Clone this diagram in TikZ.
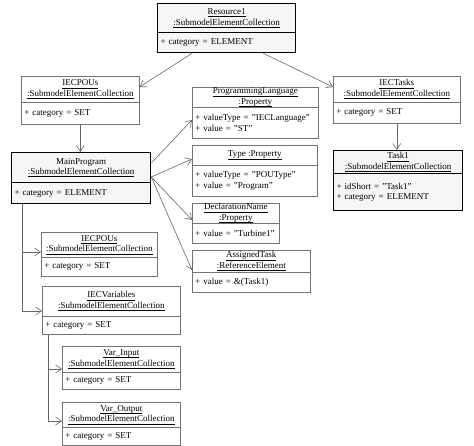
\documentclass[tikz,border=0pt]{standalone}
\usepackage{fontspec}
\setmainfont{Liberation Serif}
\usetikzlibrary{arrows.meta}
\tikzset{
  boxline/.style={draw=black!55, line width=0.6pt, fill=white},
  hdr/.style={boxline, inner sep=0pt, align=center, anchor=north west,
    font=\fontsize{9}{10.5}\selectfont},
  bdy/.style={boxline, inner xsep=3pt, inner ysep=0pt, align=left, anchor=north west,
    font=\fontsize{9}{10.5}\selectfont},
  heavy/.style={draw=black, line width=1.3pt, fill=gray!7},
  conn/.style={draw=black!60, line width=0.6pt, -{Straight Barb[length=6pt,width=8pt]}}
}
% #1 extra style, #2 name, #3 left, #4 top, #5 right, #6 divider, #7 bottom, #8 header, #9 body
\newcommand\umlbox[9][]{%
  \pgfmathsetmacro\ubw{#5-#3}%
  \pgfmathsetmacro\ubtw{#5-#3-6}%
  \pgfmathsetmacro\ubhh{#6-#4}%
  \pgfmathsetmacro\ubbh{#7-#6}%
  \node[hdr,#1, minimum width=\ubw pt, minimum height=\ubhh pt] (#2) at (#3,#4) {#8};
  \node[bdy,#1, text width=\ubtw pt, minimum height=\ubbh pt] (#2-b) at (#3,#6) {#9};
}
\newcommand\ul[1]{\underline{\raisebox{0pt}[\height][0.6pt]{#1}}}
\begin{document}
\begin{tikzpicture}[x=1pt,y=-1pt]
\useasboundingbox (0,0) rectangle (474,446);

\umlbox[heavy]{res}{157}{3}{295}{32}{52}{\ul{Resource1}\\\ul{:SubmodelElementCollection}}{+ category = ELEMENT}
\umlbox{poua}{21}{76}{139}{102}{124}{\ul{IECPOUs}\\\ul{:SubmodelElementCollection}}{+ category = SET}
\umlbox{tasks}{333}{76}{460}{102}{123}{\ul{IECTasks}\\\ul{:SubmodelElementCollection}}{+ category = SET}
\umlbox[heavy]{task}{333}{150}{462}{173}{210}{\ul{Task1}\\\ul{:SubmodelElementCollection}}{+ idShort = "Task1"\\+ category = ELEMENT}
\umlbox[heavy]{main}{11}{152}{150}{182}{203}{MainProgram\\\ul{:SubmodelElementCollection}}{+ category = ELEMENT}
\umlbox{pl}{192}{87}{318}{107}{138}{\ul{ProgrammingLanguage}\\\ul{:Property}}{+ valueType = "IECLanguage"\\+ value = "ST"}
\umlbox{type}{192}{145}{317}{165}{196}{\ul{Type :Property}}{+ valueType = "POUType"\\+ value = "Program"}
\umlbox{decl}{192}{203}{279}{223}{243}{\ul{DeclarationName}\\\ul{:Property}}{+ value = "Turbine1"}
\umlbox{asg}{192}{250}{310}{272}{292}{\ul{AssignedTask}\\\ul{:ReferenceElement}}{+ value = \&(Task1)}
\umlbox{poub}{41}{232}{157}{257}{276}{\ul{IECPOUs}\\\ul{:SubmodelElementCollection}}{+ category = SET}
\umlbox{vars}{42}{286}{180}{316}{334}{\ul{IECVariables}\\\ul{:SubmodelElementCollection}}{+ category = SET}
\umlbox{vin}{62}{346}{180}{372}{389}{\ul{Var\_Input}\\\ul{:SubmodelElementCollection}}{+ category = SET}
\umlbox{vout}{62}{402}{180}{427}{445}{\ul{Var\_Output}\\\ul{:SubmodelElementCollection}}{+ category = SET}

\draw[conn] ([xshift=35pt]res-b.south west) -- ([yshift=-11pt]poua.north east);
\draw[conn] ([xshift=-33pt]res-b.south east) -- ([yshift=-11pt]tasks.north west);
\draw[conn] (poua-b.south) -- (poua-b.south |- main.north);
\draw[conn] (tasks-b.south) -- (tasks-b.south |- task.north);
\draw[conn] ([yshift=-11pt]main.north east) -- ([yshift=-13pt]pl-b.north west);
\draw[conn] ([yshift=-25pt]main.north east) -- ([yshift=-14pt]type.north west);
\draw[conn] ([yshift=-25pt]main.north east) -- ([yshift=-17pt]decl.north west);
\draw[conn] ([yshift=-25pt]main.north east) -- ([yshift=-20pt]asg.north west);
\draw[conn] ([xshift=11pt]main-b.south west) |- ([yshift=-20pt]poub.north west);
\draw[conn] ([xshift=11pt]main-b.south west) |- ([yshift=-25pt]vars.north west);
\draw[conn] ([xshift=6pt]vars-b.south west) |- ([yshift=-23pt]vin.north west);
\draw[conn] ([xshift=6pt]vars-b.south west) |- ([yshift=-19pt]vout.north west);
\end{tikzpicture}
\end{document}
